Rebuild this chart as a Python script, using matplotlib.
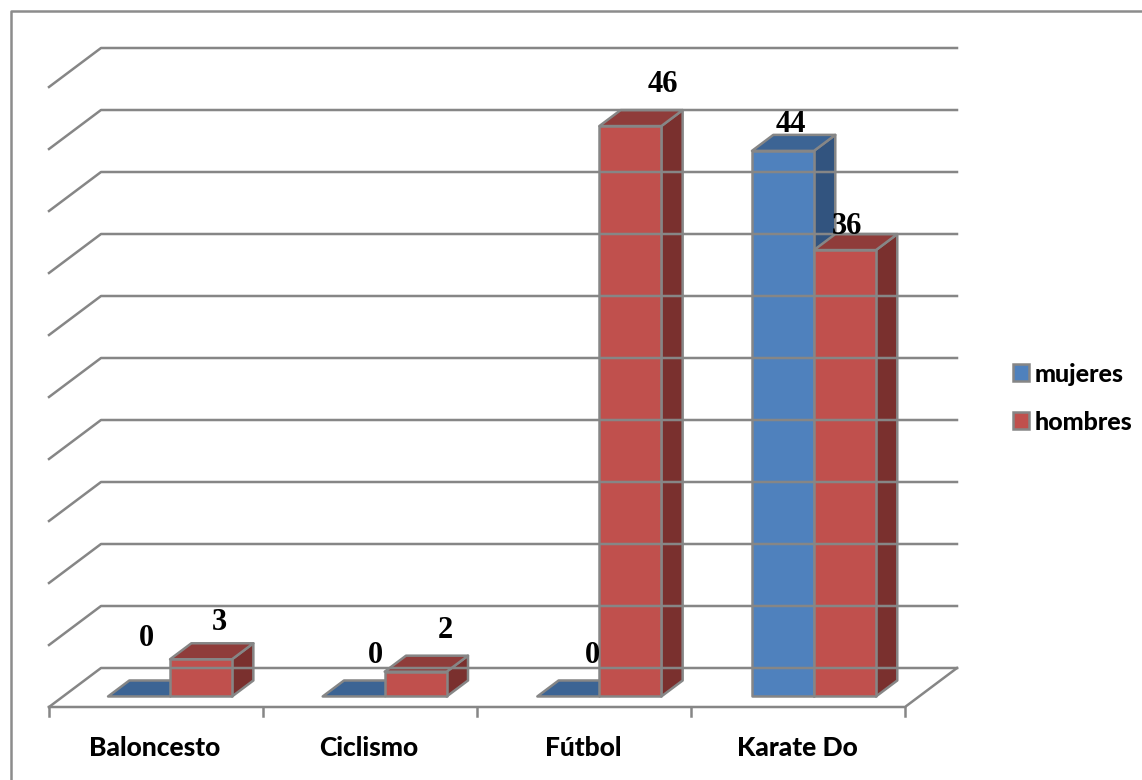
import matplotlib
matplotlib.use("Agg")
import matplotlib.pyplot as plt
from matplotlib.patches import Polygon, Patch
from matplotlib.lines import Line2D

W, H = 1142, 780

categories = ["Baloncesto", "Ciclismo", "Fútbol", "Karate Do"]
mujeres = [0, 0, 0, 44]
hombres = [3, 2, 46, 36]
value_ticks = [0, 5, 10, 15, 20, 25, 30, 35, 40, 45, 50]

# moved by hand in the original, so offsets in pixels from the bar top
label_off_m = [(7, 58), (22, 41), (24, 41), (8, 26)]
label_off_h = [(18, 37), (30, 41), (33, 42), (2, 24)]

# 3d look: px per unit and shear of the depth axis
PX_X = 214.0
PX_Y = 12.4
X0, Y0 = 49, 707
DX = 52 / PX_X
DY = 39 / PX_Y
BAR_W = 62 / PX_X
D_FRONT = 0.27
D_BACK = 0.68

EDGE = "#868686"
BLUE = ("#4F81BD", "#3C6494", "#32547F")
RED = ("#C0504D", "#8F3C3A", "#7A302E")


def pt(x, v, d=0.0):
    return (x + d * DX, v + d * DY)


def draw_bar(ax, x0, x1, v, cols):
    front, top, side = cols
    lw = 1.8
    if v > 0:
        ax.add_patch(Polygon([pt(x1, 0, D_FRONT), pt(x1, 0, D_BACK), pt(x1, v, D_BACK), pt(x1, v, D_FRONT)],
                             fc=side, ec=EDGE, lw=lw, joinstyle="round"))
    ax.add_patch(Polygon([pt(x0, v, D_FRONT), pt(x1, v, D_FRONT), pt(x1, v, D_BACK), pt(x0, v, D_BACK)],
                         fc=top, ec=EDGE, lw=lw, joinstyle="round"))
    if v > 0:
        ax.add_patch(Polygon([pt(x0, 0, D_FRONT), pt(x1, 0, D_FRONT), pt(x1, v, D_FRONT), pt(x0, v, D_FRONT)],
                             fc=front, ec=EDGE, lw=lw, joinstyle="round"))


fig = plt.figure(figsize=(W / 100, H / 100), dpi=100)
ax = fig.add_axes([0, 0, 1, 1])
ax.set_xlim(-X0 / PX_X, (W - X0) / PX_X)
ax.set_ylim((Y0 - H) / PX_Y, Y0 / PX_Y)
ax.axis("off")

# chart border, picture is cropped so only left and top show
fig.add_artist(Line2D([11 / W, 11 / W, 1], [0, 1 - 11 / H, 1 - 11 / H], color="#8C8C8C", lw=1.8,
                      transform=fig.transFigure))

# walls and floor
n = len(categories)
for v in value_ticks:
    xs = [pt(0, v)[0], pt(0, v, 1)[0], pt(n, v, 1)[0]]
    ys = [pt(0, v)[1], pt(0, v, 1)[1], pt(n, v, 1)[1]]
    ax.plot(xs, ys, color=EDGE, lw=1.8, solid_joinstyle="round")
ax.plot([0, n, pt(n, 0, 1)[0]], [0, 0, pt(n, 0, 1)[1]], color=EDGE, lw=1.8)
for i in range(n + 1):
    ax.plot([i, i], [0, -9 / PX_Y], color=EDGE, lw=1.8)

for i, name in enumerate(categories):
    mid = i + 0.5 + 0.003 * i
    draw_bar(ax, mid - BAR_W, mid, mujeres[i], BLUE)
    draw_bar(ax, mid, mid + BAR_W, hombres[i], RED)

    for val, off, cx in ((mujeres[i], label_off_m[i], mid - BAR_W / 2),
                         (hombres[i], label_off_h[i], mid + BAR_W / 2)):
        lx, ly = pt(cx, val, D_FRONT)
        ax.text(lx + off[0] / PX_X, ly + off[1] / PX_Y, str(val), family="Liberation Serif", weight="bold",
                fontsize=22, ha="center", va="center", color="black")

    ax.text(i + 0.5 - 1 / PX_X, -41 / PX_Y, name, family="Lato", weight="black", fontsize=19,
            ha="center", va="center", color="black")

handles = [Patch(fc=BLUE[0], ec=EDGE, lw=1.8, label="mujeres"),
           Patch(fc=RED[0], ec=EDGE, lw=1.8, label="hombres")]
ax.legend(handles=handles, loc="center left", bbox_to_anchor=(1013 / W, 1 - 398 / H), frameon=False,
          prop={"family": "Lato", "weight": "black", "size": 18}, handlelength=0.62, handleheight=0.66,
          handletextpad=0.26, labelspacing=1.0, borderpad=0, borderaxespad=0)

fig.savefig("out.png", dpi=100)
